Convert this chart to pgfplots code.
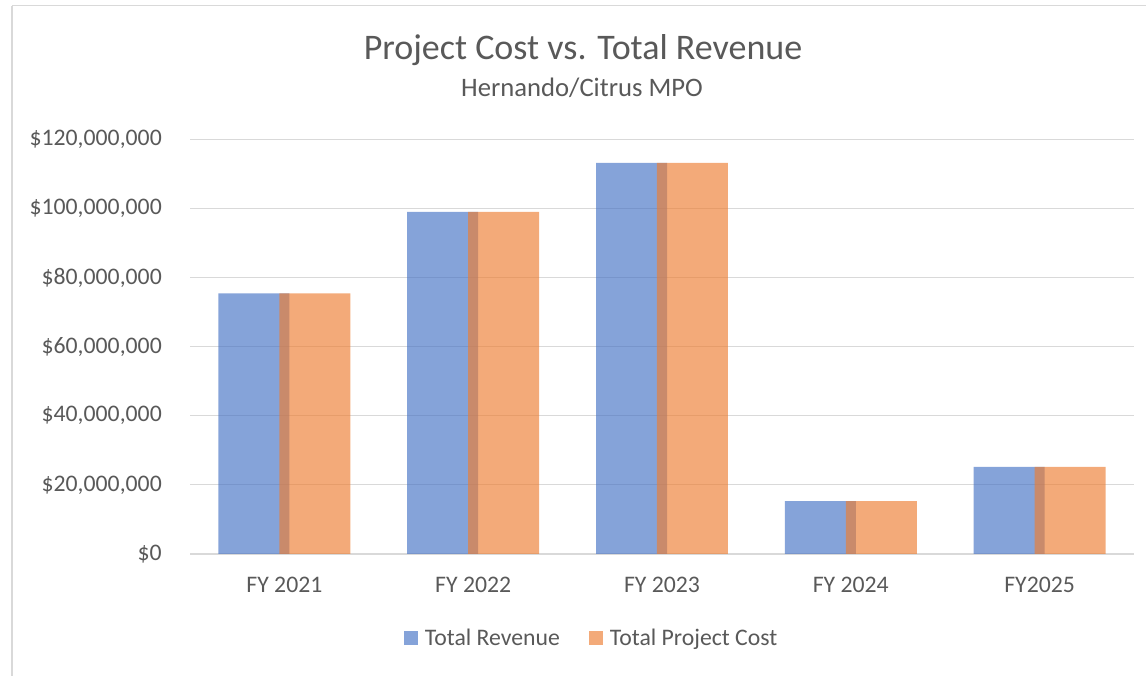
\documentclass[border=0pt]{standalone}
\usepackage{pgfplots}
\pgfplotsset{compat=1.18}
\usepackage{fontspec}
\setmainfont{Carlito}
\definecolor{txt}{HTML}{595959}
\definecolor{gridc}{HTML}{D9D9D9}
\definecolor{blu}{HTML}{4472C4}
\definecolor{org}{HTML}{ED7D31}
\begin{document}
\begin{tikzpicture}
\useasboundingbox (0pt,0pt) rectangle (859.5pt,506.25pt);
\draw[gridc, line width=1.5pt] (9pt,-15pt) -- (9pt,502.1pt);
\draw[gridc, line width=0.75pt] (9pt,502.1pt) -- (880pt,502.1pt);
\node[txt, font=\fontsize{27}{32}\selectfont, anchor=base] at (437.25pt,461.25pt) {Project Cost vs. Total Revenue};
\node[txt, font=\fontsize{20}{24}\selectfont, anchor=base] at (436.5pt,433.5pt) {Hernando/Citrus MPO};
\begin{axis}[
  at={(142.5pt,90.75pt)}, anchor=south west,
  scale only axis, width=708pt, height=311pt,
  xmin=-0.5, xmax=4.5, ymin=0, ymax=120000000,
  xtick={0,1,2,3,4},
  xticklabels={FY 2021,FY 2022,FY 2023,FY 2024,FY2025},
  ytick={0,20000000,40000000,60000000,80000000,100000000,120000000},
  scaled y ticks=false,
  /pgf/number format/assume math mode=true,
  yticklabel={\$\pgfmathprintnumber[fixed,precision=0,1000 sep={,}]{\tick}},
  major tick length=0pt,
  axis x line*=bottom, axis y line*=left,
  x axis line style={gridc, line width=1.5pt},
  y axis line style={draw=none},
  ymajorgrids, grid style={gridc, line width=0.9pt},
  tick label style={txt, font=\fontsize{17.8}{21}\selectfont},
  yticklabel style={anchor=east, inner sep=0pt, xshift=-21pt},
  xticklabel style={anchor=north, inner sep=0pt, yshift=-17pt},
  legend style={at={(0.426,-0.2026)}, anchor=center, draw=none, fill=none,
    legend columns=2, font=\fontsize{17.8}{21}\selectfont, text=txt,
    /tikz/every odd column/.append style={column sep=3pt},
    /tikz/every even column/.append style={column sep=20pt}},
  legend cell align=left,
  clip=false,
]
\addplot[ybar, bar width=0.376, bar shift=-0.1615, fill=blu, draw=none, fill opacity=0.65,
  legend image code/.code={\fill[blu, fill opacity=0.65] (0pt,-5.25pt) rectangle (10.5pt,5.25pt);}]
  coordinates {(0,75400000) (1,99000000) (2,113200000) (3,15300000) (4,25200000)};
\addlegendentry{Total Revenue}
\addplot[ybar, bar width=0.376, bar shift=0.1615, fill=org, draw=none, fill opacity=0.65,
  legend image code/.code={\fill[org, fill opacity=0.65] (0pt,-5.25pt) rectangle (10.5pt,5.25pt);}]
  coordinates {(0,75400000) (1,99000000) (2,113200000) (3,15300000) (4,25200000)};
\addlegendentry{Total Project Cost}
\end{axis}
\end{tikzpicture}
\end{document}
